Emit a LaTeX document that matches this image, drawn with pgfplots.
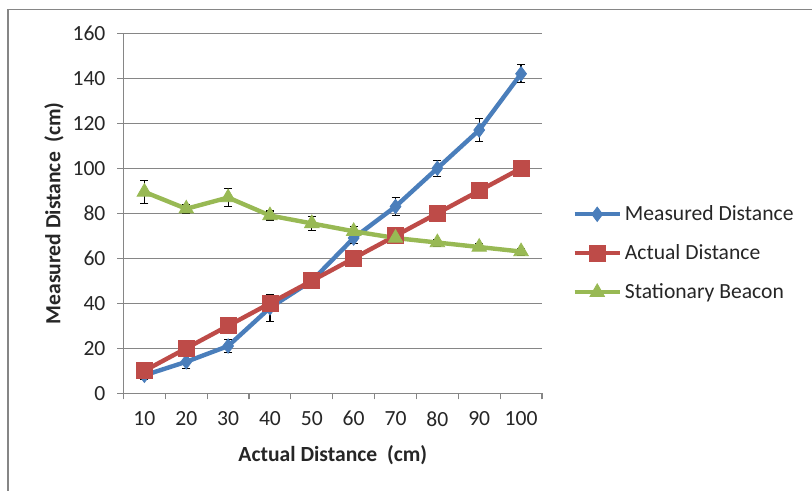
\documentclass[border=0pt]{standalone}
\usepackage{pgfplots}
\usepackage{pgfplotstable}
\pgfplotsset{compat=1.18}
\usepackage{fontspec}
\setmainfont{Carlito}
\definecolor{exblue}{HTML}{4A7EBB}
\definecolor{exred}{HTML}{BE4B48}
\definecolor{exgreen}{HTML}{98B954}
\definecolor{exgrid}{HTML}{868686}
\definecolor{extext}{HTML}{262626}

\pgfplotstableread{
x y e
0 8 2
1 14 3
2 21 3
3 38 6
4 50 2
5 69 2.5
6 83 4
7 100 3.5
8 117 5
9 142 4
}\measured

\pgfplotstableread{
x y
0 10
1 20
2 30
3 40
4 50
5 60
6 70
7 80
8 90
9 100
}\actual

\pgfplotstableread{
x y e
0 89.5 5
1 82 2
2 87 4
3 79 2
4 75.5 3
5 72 2
6 69 2
7 67 1.5
8 65 1.5
9 63 1.5
}\beacon

\begin{document}
\begin{tikzpicture}
\useasboundingbox (0,0) rectangle (406pt,245.5pt);
\fill[white] (0,0) rectangle (406pt,245.5pt);
\draw[exgrid, line width=0.7pt] (4pt,-5pt) -- (4pt,240.75pt) -- (420pt,240.75pt);
\begin{axis}[
  at={(61.75pt,48.85pt)}, anchor=south west,
  scale only axis, width=209.25pt, height=180pt,
  xmin=-0.5, xmax=9.5, ymin=0, ymax=160,
  axis x line*=bottom, axis y line*=left,
  axis line style={-, draw=exgrid, line width=0.6pt},
  xtick={-0.5,0.5,1.5,2.5,3.5,4.5,5.5,6.5,7.5,8.5,9.5},
  x tick label as interval,
  xticklabels={10,20,30,40,50,60,70,80,90,100},
  ytick={0,20,...,160},
  tick align=outside,
  major tick length=3pt,
  tick style={draw=exgrid, line width=0.6pt},
  ymajorgrids, grid style={draw=exgrid, line width=0.6pt},
  /pgf/number format/assume math mode=true,
  tick label style={font=\fontsize{10.8}{13}\selectfont, text=extext},
  yticklabel style={xshift=-2.5pt},
  xticklabel style={yshift=-2.5pt},
  xlabel={\textbf{Actual Distance\ \ (cm)}},
  ylabel={\textbf{Measured Distance\ \ (cm)}},
  label style={font=\fontsize{10.8}{13}\selectfont, text=extext},
  xlabel style={at={(axis description cs:0.5,-0.172)}, anchor=center},
  ylabel style={at={(axis description cs:-0.166,0.5)}, anchor=center},
  legend style={at={(1.072,0.389)}, anchor=west, draw=none, fill=none,
    font=\fontsize{10.8}{13}\selectfont, text=extext, row sep=7.5pt,
    inner sep=0pt, nodes={inner sep=1.5pt}},
  legend cell align=left,
  legend image code/.code={\draw[mark repeat=2,mark phase=2,#1] plot coordinates {(0pt,0pt) (11.25pt,0pt) (22.5pt,0pt)};},
  every axis plot/.append style={line width=2.2pt},
  error bars/error bar style={black, line width=0.6pt},
  error bars/error mark options={black, mark size=2pt, line width=0.6pt, rotate=90},
]
\addplot[exblue, mark=diamond*, mark size=3.6pt, mark options={solid, fill=exblue, line width=0.4pt},
  error bars/.cd, y dir=both, y explicit]
  table[x=x, y=y, y error=e] {\measured};
\addlegendentry{Measured Distance}
\addplot[exred, mark=square*, mark size=4pt, mark options={solid, fill=exred, line width=0.4pt}]
  table[x=x, y=y] {\actual};
\addlegendentry{Actual Distance}
\addplot[exgreen, mark=triangle*, mark size=4.2pt, mark options={solid, fill=exgreen, line width=0.4pt},
  error bars/.cd, y dir=both, y explicit]
  table[x=x, y=y, y error=e] {\beacon};
\addlegendentry{Stationary Beacon}
\end{axis}
\end{tikzpicture}
\end{document}
